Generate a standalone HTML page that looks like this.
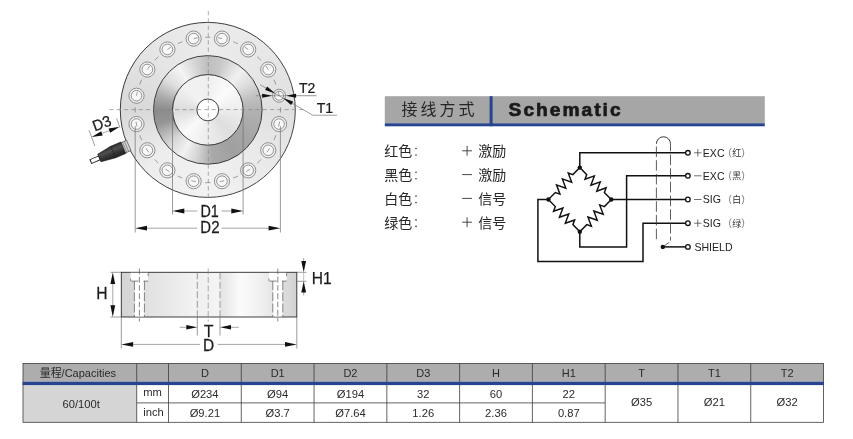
<!DOCTYPE html>
<html><head><meta charset="utf-8"><title>Load cell</title>
<style>
html,body{margin:0;padding:0;background:#fff;}
#c{position:relative;width:853px;height:439px;overflow:hidden;background:#fff;font-family:"Liberation Sans","Noto Sans CJK SC",sans-serif;}
svg{position:absolute;left:0;top:0;will-change:transform;}
svg text{font-family:"Liberation Sans","Noto Sans CJK SC",sans-serif;}
</style></head><body><div id="c">
<div style="position:absolute;left:120.30px;top:22.40px;width:175.00px;height:175.00px;border-radius:50%;background:conic-gradient(from 0deg,#ececec 0deg,#e8e8e8 40deg,#e0e0e0 90deg,#eaeaea 135deg,#f2f2f2 180deg,#ededed 225deg,#d9d9d9 270deg,#e5e5e5 315deg,#ececec 360deg)"></div>
<div style="position:absolute;left:153.50px;top:55.60px;width:108.60px;height:108.60px;border-radius:50%;background:conic-gradient(from 0deg,#bebebe 0deg,#c8c8c8 15deg,#f0f0f0 40deg,#e0e0e0 55deg,#c0c0c0 75deg,#b2b2b2 90deg,#a6a6a6 120deg,#a0a0a0 150deg,#aaaaaa 175deg,#d8d8d8 195deg,#f2f2f2 210deg,#d4d4d4 230deg,#949494 255deg,#8c8c8c 270deg,#a8a8a8 285deg,#dcdcdc 305deg,#f4f4f4 325deg,#d4d4d4 345deg,#bebebe 360deg)"></div>
<div style="position:absolute;left:172.50px;top:74.60px;width:70.60px;height:70.60px;border-radius:50%;background:conic-gradient(from 0deg,#efefef 0deg,#fbfbfb 45deg,#ededed 90deg,#dedede 135deg,#ececec 180deg,#fafafa 225deg,#dcdcdc 270deg,#f2f2f2 315deg,#efefef 360deg)"></div>
<svg width="853" height="439" viewBox="0 0 853 439">
<defs>
<linearGradient id="sideg" x1="0" x2="1" y1="0" y2="0">
<stop offset="0" stop-color="#d4d4d4"/><stop offset="0.07" stop-color="#d8d8d8"/><stop offset="0.16" stop-color="#e2e2e2"/>
<stop offset="0.43" stop-color="#f3f3f3"/><stop offset="0.433" stop-color="#f0f0f0"/><stop offset="0.563" stop-color="#f4f4f4"/><stop offset="0.566" stop-color="#e4e4e4"/>
<stop offset="0.68" stop-color="#fbfbfb"/><stop offset="0.78" stop-color="#f2f2f2"/><stop offset="0.9" stop-color="#e0e0e0"/><stop offset="1" stop-color="#d2d2d2"/>
</linearGradient>
<linearGradient id="cong" x1="0" x2="0" y1="0" y2="1">
<stop offset="0" stop-color="#222"/><stop offset="0.4" stop-color="#383838"/><stop offset="0.68" stop-color="#505050"/><stop offset="1" stop-color="#2c2c2c"/>
</linearGradient>
</defs>
<circle cx="207.8" cy="109.9" r="87.5" fill="none" stroke="#2a2a2a" stroke-width="0.9"/>
<circle cx="207.8" cy="109.9" r="54.3" fill="none" stroke="#2a2a2a" stroke-width="0.9"/>
<circle cx="207.8" cy="109.9" r="35.3" fill="none" stroke="#2a2a2a" stroke-width="0.9"/>
<circle cx="207.8" cy="109.9" r="10.9" fill="#fff" stroke="#2a2a2a" stroke-width="0.9"/>
<circle cx="279.10" cy="95.72" r="6.5" fill="#f0f0f0" stroke="#444" stroke-width="0.55"/>
<circle cx="279.10" cy="95.72" r="4.5" fill="#f8f8f8" stroke="#444" stroke-width="0.55"/>
<line x1="279.10" y1="95.72" x2="278.28" y2="91.60" stroke="#555" stroke-width="0.55"/>
<path d="M280.45 112.50 A72.7 72.7 0 0 0 280.45 107.30" fill="none" stroke="#666" stroke-width="0.6"/>
<circle cx="268.25" cy="69.51" r="7.6" fill="#f0f0f0" stroke="#444" stroke-width="0.55"/>
<circle cx="268.25" cy="69.51" r="5.3" fill="#f8f8f8" stroke="#444" stroke-width="0.55"/>
<line x1="268.25" y1="69.51" x2="265.91" y2="66.02" stroke="#555" stroke-width="0.55"/>
<path d="M275.92 84.50 A72.7 72.7 0 0 0 273.93 79.70" fill="none" stroke="#666" stroke-width="0.6"/>
<circle cx="248.19" cy="49.45" r="7.6" fill="#f0f0f0" stroke="#444" stroke-width="0.55"/>
<circle cx="248.19" cy="49.45" r="5.3" fill="#f8f8f8" stroke="#444" stroke-width="0.55"/>
<line x1="248.19" y1="49.45" x2="244.70" y2="47.12" stroke="#555" stroke-width="0.55"/>
<path d="M261.01 60.36 A72.7 72.7 0 0 0 257.34 56.69" fill="none" stroke="#666" stroke-width="0.6"/>
<circle cx="221.98" cy="38.60" r="7.6" fill="#f0f0f0" stroke="#444" stroke-width="0.55"/>
<circle cx="221.98" cy="38.60" r="5.3" fill="#f8f8f8" stroke="#444" stroke-width="0.55"/>
<line x1="221.98" y1="38.60" x2="217.86" y2="37.78" stroke="#555" stroke-width="0.55"/>
<path d="M238.00 43.77 A72.7 72.7 0 0 0 233.20 41.78" fill="none" stroke="#666" stroke-width="0.6"/>
<circle cx="193.62" cy="38.60" r="7.6" fill="#f0f0f0" stroke="#444" stroke-width="0.55"/>
<circle cx="193.62" cy="38.60" r="5.3" fill="#f8f8f8" stroke="#444" stroke-width="0.55"/>
<line x1="197.74" y1="37.78" x2="193.62" y2="38.60" stroke="#555" stroke-width="0.55"/>
<path d="M210.40 37.25 A72.7 72.7 0 0 0 205.20 37.25" fill="none" stroke="#666" stroke-width="0.6"/>
<circle cx="167.41" cy="49.45" r="7.6" fill="#f0f0f0" stroke="#444" stroke-width="0.55"/>
<circle cx="167.41" cy="49.45" r="5.3" fill="#f8f8f8" stroke="#444" stroke-width="0.55"/>
<line x1="170.90" y1="47.12" x2="167.41" y2="49.45" stroke="#555" stroke-width="0.55"/>
<path d="M182.40 41.78 A72.7 72.7 0 0 0 177.60 43.77" fill="none" stroke="#666" stroke-width="0.6"/>
<circle cx="147.35" cy="69.51" r="7.6" fill="#f0f0f0" stroke="#444" stroke-width="0.55"/>
<circle cx="147.35" cy="69.51" r="5.3" fill="#f8f8f8" stroke="#444" stroke-width="0.55"/>
<line x1="149.69" y1="66.02" x2="147.35" y2="69.51" stroke="#555" stroke-width="0.55"/>
<path d="M158.26 56.69 A72.7 72.7 0 0 0 154.59 60.36" fill="none" stroke="#666" stroke-width="0.6"/>
<circle cx="136.50" cy="95.72" r="7.6" fill="#f0f0f0" stroke="#444" stroke-width="0.55"/>
<circle cx="136.50" cy="95.72" r="5.3" fill="#f8f8f8" stroke="#444" stroke-width="0.55"/>
<line x1="137.32" y1="91.60" x2="136.50" y2="95.72" stroke="#555" stroke-width="0.55"/>
<path d="M141.67 79.70 A72.7 72.7 0 0 0 139.68 84.50" fill="none" stroke="#666" stroke-width="0.6"/>
<circle cx="136.50" cy="124.08" r="7.6" fill="#f0f0f0" stroke="#444" stroke-width="0.55"/>
<circle cx="136.50" cy="124.08" r="5.3" fill="#f8f8f8" stroke="#444" stroke-width="0.55"/>
<line x1="136.03" y1="121.73" x2="136.97" y2="126.44" stroke="#555" stroke-width="0.55"/>
<path d="M135.15 107.30 A72.7 72.7 0 0 0 135.15 112.50" fill="none" stroke="#666" stroke-width="0.6"/>
<circle cx="147.35" cy="150.29" r="7.6" fill="#f0f0f0" stroke="#444" stroke-width="0.55"/>
<circle cx="147.35" cy="150.29" r="5.3" fill="#f8f8f8" stroke="#444" stroke-width="0.55"/>
<line x1="146.02" y1="148.29" x2="148.69" y2="152.29" stroke="#555" stroke-width="0.55"/>
<path d="M139.68 135.30 A72.7 72.7 0 0 0 141.67 140.10" fill="none" stroke="#666" stroke-width="0.6"/>
<circle cx="167.41" cy="170.35" r="7.6" fill="#f0f0f0" stroke="#444" stroke-width="0.55"/>
<circle cx="167.41" cy="170.35" r="5.3" fill="#f8f8f8" stroke="#444" stroke-width="0.55"/>
<line x1="165.41" y1="169.01" x2="169.41" y2="171.68" stroke="#555" stroke-width="0.55"/>
<path d="M154.59 159.44 A72.7 72.7 0 0 0 158.26 163.11" fill="none" stroke="#666" stroke-width="0.6"/>
<circle cx="193.62" cy="181.20" r="7.6" fill="#f0f0f0" stroke="#444" stroke-width="0.55"/>
<circle cx="193.62" cy="181.20" r="5.3" fill="#f8f8f8" stroke="#444" stroke-width="0.55"/>
<line x1="191.26" y1="180.73" x2="195.97" y2="181.67" stroke="#555" stroke-width="0.55"/>
<path d="M177.60 176.03 A72.7 72.7 0 0 0 182.40 178.02" fill="none" stroke="#666" stroke-width="0.6"/>
<circle cx="221.98" cy="181.20" r="7.6" fill="#f0f0f0" stroke="#444" stroke-width="0.55"/>
<circle cx="221.98" cy="181.20" r="5.3" fill="#f8f8f8" stroke="#444" stroke-width="0.55"/>
<line x1="219.63" y1="181.67" x2="224.34" y2="180.73" stroke="#555" stroke-width="0.55"/>
<path d="M205.20 182.55 A72.7 72.7 0 0 0 210.40 182.55" fill="none" stroke="#666" stroke-width="0.6"/>
<circle cx="248.19" cy="170.35" r="7.6" fill="#f0f0f0" stroke="#444" stroke-width="0.55"/>
<circle cx="248.19" cy="170.35" r="5.3" fill="#f8f8f8" stroke="#444" stroke-width="0.55"/>
<line x1="246.19" y1="171.68" x2="250.19" y2="169.01" stroke="#555" stroke-width="0.55"/>
<path d="M233.20 178.02 A72.7 72.7 0 0 0 238.00 176.03" fill="none" stroke="#666" stroke-width="0.6"/>
<circle cx="268.25" cy="150.29" r="7.6" fill="#f0f0f0" stroke="#444" stroke-width="0.55"/>
<circle cx="268.25" cy="150.29" r="5.3" fill="#f8f8f8" stroke="#444" stroke-width="0.55"/>
<line x1="266.91" y1="152.29" x2="269.58" y2="148.29" stroke="#555" stroke-width="0.55"/>
<path d="M257.34 163.11 A72.7 72.7 0 0 0 261.01 159.44" fill="none" stroke="#666" stroke-width="0.6"/>
<circle cx="279.10" cy="124.08" r="7.6" fill="#f0f0f0" stroke="#444" stroke-width="0.55"/>
<circle cx="279.10" cy="124.08" r="5.3" fill="#f8f8f8" stroke="#444" stroke-width="0.55"/>
<line x1="278.63" y1="126.44" x2="279.57" y2="121.73" stroke="#555" stroke-width="0.55"/>
<path d="M273.93 140.10 A72.7 72.7 0 0 0 275.92 135.30" fill="none" stroke="#666" stroke-width="0.6"/>
<line x1="109.3" y1="109.6" x2="305" y2="109.6" stroke="#888" stroke-width="0.7" stroke-dasharray="4.3 3"/>
<line x1="208.3" y1="11" x2="208.3" y2="198.5" stroke="#888" stroke-width="0.7" stroke-dasharray="4.3 3"/>
<line x1="172.50" y1="109.90" x2="172.50" y2="214.50" stroke="#707070" stroke-width="0.7"/>
<line x1="243.10" y1="109.90" x2="243.10" y2="214.50" stroke="#707070" stroke-width="0.7"/>
<line x1="183.50" y1="211.00" x2="197.30" y2="211.00" stroke="#808080" stroke-width="0.7"/>
<line x1="221.50" y1="211.00" x2="232.10" y2="211.00" stroke="#808080" stroke-width="0.7"/>
<polygon points="172.50,211.00 184.30,208.60 184.30,213.40" fill="#111"/>
<polygon points="243.10,211.00 231.30,213.40 231.30,208.60" fill="#111"/>
<text transform="translate(209.6 216.8) scale(0.92 1)" font-size="15.6" text-anchor="middle" fill="#1c1c1c" stroke="#1c1c1c" stroke-width="0.25">D1</text>
<line x1="135.20" y1="126.00" x2="135.20" y2="232.50" stroke="#707070" stroke-width="0.7"/>
<line x1="280.40" y1="126.00" x2="280.40" y2="232.50" stroke="#707070" stroke-width="0.7"/>
<line x1="146.20" y1="228.20" x2="197.30" y2="228.20" stroke="#808080" stroke-width="0.7"/>
<line x1="221.50" y1="228.20" x2="269.40" y2="228.20" stroke="#808080" stroke-width="0.7"/>
<polygon points="135.20,228.20 147.00,225.80 147.00,230.60" fill="#111"/>
<polygon points="280.40,228.20 268.60,230.60 268.60,225.80" fill="#111"/>
<text transform="translate(209.9 233.4) scale(0.96 1)" font-size="15.6" text-anchor="middle" fill="#1c1c1c" stroke="#1c1c1c" stroke-width="0.25">D2</text>
<line x1="255.70" y1="95.72" x2="263.60" y2="95.72" stroke="#808080" stroke-width="0.7"/>
<line x1="294.60" y1="95.72" x2="316.60" y2="95.72" stroke="#666" stroke-width="0.7"/>
<line x1="272.60" y1="95.72" x2="285.60" y2="95.72" stroke="#666" stroke-width="0.5"/>
<polygon points="272.60,95.72 262.10,97.72 262.10,93.72" fill="#111"/>
<polygon points="285.60,95.72 296.10,93.72 296.10,97.72" fill="#111"/>
<text transform="translate(298.9 93.1) scale(0.98 1)" font-size="14.3" text-anchor="start" fill="#1c1c1c" stroke="#1c1c1c" stroke-width="0.25">T2</text>
<polyline points="260.05,84.72 312.88,115.22 337,115.22" fill="none" stroke="#777" stroke-width="0.7"/>
<polygon points="275.21,93.47 265.11,89.95 267.11,86.48" fill="#111"/>
<polygon points="283.00,97.97 293.09,101.48 291.09,104.95" fill="#111"/>
<text transform="translate(316.8 112.8) scale(0.98 1)" font-size="14.3" text-anchor="start" fill="#1c1c1c" stroke="#1c1c1c" stroke-width="0.25">T1</text>
<g transform="translate(126.5 146.4) rotate(157)">
<rect x="-2.5" y="-5.6" width="7" height="11.2" fill="#d4d4d4" stroke="#444" stroke-width="0.6"/>
<line x1="0" y1="-5.6" x2="0" y2="5.6" stroke="#555" stroke-width="0.5"/>
<line x1="2" y1="-5.6" x2="2" y2="5.6" stroke="#555" stroke-width="0.5"/>
<polygon points="3.5,-6.2 14.5,-6.2 29.5,-4.1 29.5,4.1 14.5,6.2 3.5,6.2" fill="url(#cong)" stroke="#1a1a1a" stroke-width="0.6"/>
<line x1="14.5" y1="-6.2" x2="14.5" y2="6.2" stroke="#1a1a1a" stroke-width="0.5"/>
<rect x="29.5" y="-2.1" width="9.3" height="4.2" fill="#fff" stroke="#111" stroke-width="0.9"/>
</g>
<g transform="translate(91.6 137.1) rotate(-20)">
<line x1="0.00" y1="-7.30" x2="0.00" y2="9.50" stroke="#707070" stroke-width="0.6"/>
<line x1="29.90" y1="-9.10" x2="29.90" y2="0.70" stroke="#707070" stroke-width="0.6"/>
<line x1="10.00" y1="0.00" x2="20.00" y2="0.00" stroke="#808080" stroke-width="0.6"/>
<polygon points="0.00,0.00 11.00,-2.20 11.00,2.20" fill="#111"/>
<polygon points="29.90,0.00 18.90,2.20 18.90,-2.20" fill="#111"/>
<text transform="translate(14.3 -4.3) scale(0.96 1)" font-size="15.3" text-anchor="middle" fill="#1c1c1c" stroke="#1c1c1c" stroke-width="0.25">D3</text>
</g>
<rect x="121.3" y="272.3" width="175.5" height="44.69999999999999" fill="url(#sideg)" stroke="#2a2a2a" stroke-width="0.9"/>
<line x1="208.2" y1="268.5" x2="208.2" y2="321.5" stroke="#888" stroke-width="0.7" stroke-dasharray="6 2.5"/>
<line x1="197.3" y1="272.3" x2="197.3" y2="317.0" stroke="#777" stroke-width="0.7" stroke-dasharray="7 2.5"/>
<line x1="220.0" y1="272.3" x2="220.0" y2="317.0" stroke="#777" stroke-width="0.7" stroke-dasharray="7 2.5"/>
<rect x="130.6" y="272.8" width="17.6" height="8.3" fill="#fff" stroke="none"/>
<rect x="134.4" y="280.6" width="10.0" height="35.89999999999999" fill="#fff" stroke="none"/>
<line x1="130.60" y1="278.60" x2="130.60" y2="281.10" stroke="#555" stroke-width="0.7"/>
<line x1="148.20" y1="273.10" x2="148.20" y2="276.10" stroke="#555" stroke-width="0.7"/>
<line x1="131.20000000000002" y1="281.1" x2="148.20000000000002" y2="281.1" stroke="#555" stroke-width="0.7" stroke-dasharray="7.3 5"/>
<line x1="134.4" y1="281.1" x2="134.4" y2="317.0" stroke="#555" stroke-width="0.7" stroke-dasharray="9 2.2"/>
<line x1="144.4" y1="281.1" x2="144.4" y2="317.0" stroke="#555" stroke-width="0.7" stroke-dasharray="9 2.2"/>
<line x1="139.4" y1="268.7" x2="139.4" y2="321.5" stroke="#555" stroke-width="0.7" stroke-dasharray="5.5 2.5 6 2.5"/>
<rect x="269.0" y="272.8" width="17.6" height="8.3" fill="#fff" stroke="none"/>
<rect x="272.8" y="280.6" width="10.0" height="35.89999999999999" fill="#fff" stroke="none"/>
<line x1="269.00" y1="278.60" x2="269.00" y2="281.10" stroke="#555" stroke-width="0.7"/>
<line x1="286.60" y1="273.10" x2="286.60" y2="276.10" stroke="#555" stroke-width="0.7"/>
<line x1="269.6" y1="281.1" x2="286.6" y2="281.1" stroke="#555" stroke-width="0.7" stroke-dasharray="7.3 5"/>
<line x1="272.8" y1="281.1" x2="272.8" y2="317.0" stroke="#555" stroke-width="0.7" stroke-dasharray="9 2.2"/>
<line x1="282.8" y1="281.1" x2="282.8" y2="317.0" stroke="#555" stroke-width="0.7" stroke-dasharray="9 2.2"/>
<line x1="277.8" y1="268.7" x2="277.8" y2="321.5" stroke="#555" stroke-width="0.7" stroke-dasharray="5.5 2.5 6 2.5"/>
<line x1="110.50" y1="272.30" x2="121.30" y2="272.30" stroke="#707070" stroke-width="0.7"/>
<line x1="110.50" y1="317.00" x2="121.30" y2="317.00" stroke="#707070" stroke-width="0.7"/>
<line x1="112.80" y1="283.30" x2="112.80" y2="306.00" stroke="#808080" stroke-width="0.7"/>
<polygon points="112.80,272.30 115.20,284.10 110.40,284.10" fill="#111"/>
<polygon points="112.80,317.00 110.40,305.20 115.20,305.20" fill="#111"/>
<text transform="translate(101.9 299.3) scale(0.95 1)" font-size="16.5" text-anchor="middle" fill="#1c1c1c" stroke="#1c1c1c" stroke-width="0.25">H</text>
<line x1="296.80" y1="272.30" x2="306.50" y2="272.30" stroke="#707070" stroke-width="0.7"/>
<line x1="296.80" y1="281.30" x2="306.50" y2="281.30" stroke="#707070" stroke-width="0.7"/>
<line x1="303.70" y1="258.00" x2="303.70" y2="262.30" stroke="#808080" stroke-width="0.7"/>
<line x1="303.70" y1="291.00" x2="303.70" y2="295.50" stroke="#808080" stroke-width="0.7"/>
<polygon points="303.70,272.30 301.30,261.10 306.10,261.10" fill="#111"/>
<polygon points="303.70,281.30 306.10,292.50 301.30,292.50" fill="#111"/>
<line x1="303.70" y1="272.30" x2="303.70" y2="281.30" stroke="#808080" stroke-width="0.5"/>
<text transform="translate(311.7 284.1) scale(1.0 1)" font-size="15.6" text-anchor="start" fill="#1c1c1c" stroke="#1c1c1c" stroke-width="0.25">H1</text>
<line x1="197.30" y1="317.00" x2="197.30" y2="335.50" stroke="#707070" stroke-width="0.7"/>
<line x1="220.00" y1="317.00" x2="220.00" y2="335.50" stroke="#707070" stroke-width="0.7"/>
<line x1="179.70" y1="327.30" x2="186.50" y2="327.30" stroke="#808080" stroke-width="0.7"/>
<line x1="230.80" y1="327.30" x2="238.80" y2="327.30" stroke="#808080" stroke-width="0.7"/>
<polygon points="197.30,327.30 186.30,329.50 186.30,325.10" fill="#111"/>
<polygon points="220.00,327.30 231.00,325.10 231.00,329.50" fill="#111"/>
<text transform="translate(208.8 336.9) scale(0.95 1)" font-size="16.3" text-anchor="middle" fill="#1c1c1c" stroke="#1c1c1c" stroke-width="0.25">T</text>
<line x1="121.30" y1="317.00" x2="121.30" y2="348.50" stroke="#707070" stroke-width="0.7"/>
<line x1="296.80" y1="317.00" x2="296.80" y2="348.50" stroke="#707070" stroke-width="0.7"/>
<line x1="132.30" y1="344.40" x2="200.00" y2="344.40" stroke="#808080" stroke-width="0.7"/>
<line x1="217.50" y1="344.40" x2="285.80" y2="344.40" stroke="#808080" stroke-width="0.7"/>
<polygon points="121.30,344.40 133.10,342.00 133.10,346.80" fill="#111"/>
<polygon points="296.80,344.40 285.00,346.80 285.00,342.00" fill="#111"/>
<text transform="translate(208.7 351.1) scale(0.95 1)" font-size="16.3" text-anchor="middle" fill="#1c1c1c" stroke="#1c1c1c" stroke-width="0.25">D</text>
<rect x="384.8" y="96.2" width="380" height="27.3" fill="#a7a6a6"/>
<rect x="384.8" y="123.3" width="380" height="3" fill="#27458f"/>
<rect x="489.6" y="96.2" width="3" height="30" fill="#27458f"/>
<text x="401.4" y="115.2" font-size="16" text-anchor="start" fill="#262626" letter-spacing="3">接线方式</text>
<text x="508.6" y="116.3" font-size="19.2" text-anchor="start" font-weight="bold" fill="#1a1a1a" letter-spacing="2.0" stroke="#1a1a1a" stroke-width="0.7" stroke-linejoin="round">Schematic</text>
<text x="384.3" y="156.1" font-size="14" text-anchor="start" fill="#262626">红色</text>
<circle cx="416" cy="148.5" r="0.8" fill="#333"/><circle cx="416" cy="155.0" r="0.8" fill="#333"/>
<line x1="462.20000000000005" y1="150.8" x2="472.0" y2="150.8" stroke="#333" stroke-width="0.9"/>
<line x1="467.1" y1="145.9" x2="467.1" y2="155.70000000000002" stroke="#333" stroke-width="0.9"/>
<text x="478.2" y="156.1" font-size="14" text-anchor="start" fill="#262626">激励</text>
<text x="384.3" y="179.9" font-size="14" text-anchor="start" fill="#262626">黑色</text>
<circle cx="416" cy="172.29999999999998" r="0.8" fill="#333"/><circle cx="416" cy="178.79999999999998" r="0.8" fill="#333"/>
<line x1="462.20000000000005" y1="174.6" x2="472.0" y2="174.6" stroke="#333" stroke-width="0.9"/>
<text x="478.2" y="179.9" font-size="14" text-anchor="start" fill="#262626">激励</text>
<text x="384.3" y="203.7" font-size="14" text-anchor="start" fill="#262626">白色</text>
<circle cx="416" cy="196.1" r="0.8" fill="#333"/><circle cx="416" cy="202.6" r="0.8" fill="#333"/>
<line x1="462.20000000000005" y1="198.4" x2="472.0" y2="198.4" stroke="#333" stroke-width="0.9"/>
<text x="478.2" y="203.7" font-size="14" text-anchor="start" fill="#262626">信号</text>
<text x="384.3" y="227.5" font-size="14" text-anchor="start" fill="#262626">绿色</text>
<circle cx="416" cy="219.89999999999998" r="0.8" fill="#333"/><circle cx="416" cy="226.39999999999998" r="0.8" fill="#333"/>
<line x1="462.20000000000005" y1="222.2" x2="472.0" y2="222.2" stroke="#333" stroke-width="0.9"/>
<line x1="467.1" y1="217.29999999999998" x2="467.1" y2="227.1" stroke="#333" stroke-width="0.9"/>
<text x="478.2" y="227.5" font-size="14" text-anchor="start" fill="#262626">信号</text>
<polyline points="579.8,167.6 579.8,152.8 685.4,152.8" fill="none" stroke="#111" stroke-width="1.5" stroke-linejoin="miter"/>
<polyline points="685.4,175.8 626.6,175.8 626.6,246.9 579.8,246.9 579.8,231.7" fill="none" stroke="#111" stroke-width="1.5" stroke-linejoin="miter"/>
<polyline points="611.3,199.5 685.4,199.5" fill="none" stroke="#111" stroke-width="1.5" stroke-linejoin="miter"/>
<polyline points="685.4,223.2 643,223.2 643,261.5 537.9,261.5 537.9,199.5 548.4,199.5" fill="none" stroke="#111" stroke-width="1.5" stroke-linejoin="miter"/>
<polyline points="662.8,246.9 685.4,246.9" fill="none" stroke="#111" stroke-width="1.5" stroke-linejoin="miter"/>
<polyline points="579.8,167.6 572.89,174.62 568.22,172.95 571.7,182.24 562.36,178.9 565.84,188.2 556.5,184.86 559.98,194.15 555.31,192.48 548.4,199.5" fill="none" stroke="#111" stroke-width="1.45" stroke-linejoin="miter"/>
<polyline points="579.8,167.6 586.73,174.62 585.0,179.27 594.34,175.92 590.88,185.22 600.22,181.88 596.76,191.18 606.1,187.83 604.37,192.48 611.3,199.5" fill="none" stroke="#111" stroke-width="1.45" stroke-linejoin="miter"/>
<polyline points="548.4,199.5 555.31,206.58 553.55,211.23 562.93,207.95 559.41,217.24 568.79,213.96 565.27,223.25 574.65,219.97 572.89,224.62 579.8,231.7" fill="none" stroke="#111" stroke-width="1.45" stroke-linejoin="miter"/>
<polyline points="611.3,199.5 604.37,206.58 599.68,204.94 603.18,214.24 593.8,210.95 597.3,220.25 587.92,216.96 591.42,226.26 586.73,224.62 579.8,231.7" fill="none" stroke="#111" stroke-width="1.45" stroke-linejoin="miter"/>
<circle cx="579.8" cy="167.6" r="2.2" fill="#111"/>
<circle cx="548.4" cy="199.5" r="2.2" fill="#111"/>
<circle cx="611.3" cy="199.5" r="2.2" fill="#111"/>
<circle cx="579.8" cy="231.7" r="2.2" fill="#111"/>
<circle cx="662.8" cy="246.9" r="2.2" fill="#111"/>
<circle cx="687.9" cy="152.8" r="2.3" fill="#fff" stroke="#111" stroke-width="1.3"/>
<line x1="694.0999999999999" y1="152.8" x2="701.5" y2="152.8" stroke="#333" stroke-width="0.7"/>
<line x1="697.8" y1="149.10000000000002" x2="697.8" y2="156.5" stroke="#333" stroke-width="0.7"/>
<text x="702.8" y="156.60000000000002" font-size="10.6" text-anchor="start" font-weight="normal" fill="#222" >EXC</text>
<path d="M731.1 148.10000000000002 C729.0 150.8 729.0 154.8 731.1 157.5" fill="none" stroke="#333" stroke-width="0.6"/>
<text x="732.2" y="156.2" font-size="9" text-anchor="start" fill="#333">红</text>
<path d="M742.1 148.10000000000002 C744.2 150.8 744.2 154.8 742.1 157.5" fill="none" stroke="#333" stroke-width="0.6"/>
<circle cx="687.9" cy="175.8" r="2.3" fill="#fff" stroke="#111" stroke-width="1.3"/>
<line x1="694.0999999999999" y1="175.8" x2="701.5" y2="175.8" stroke="#333" stroke-width="0.7"/>
<text x="702.8" y="179.60000000000002" font-size="10.6" text-anchor="start" font-weight="normal" fill="#222" >EXC</text>
<path d="M731.1 171.10000000000002 C729.0 173.8 729.0 177.8 731.1 180.5" fill="none" stroke="#333" stroke-width="0.6"/>
<text x="732.2" y="179.2" font-size="9" text-anchor="start" fill="#333">黑</text>
<path d="M742.1 171.10000000000002 C744.2 173.8 744.2 177.8 742.1 180.5" fill="none" stroke="#333" stroke-width="0.6"/>
<circle cx="687.9" cy="199.5" r="2.3" fill="#fff" stroke="#111" stroke-width="1.3"/>
<line x1="694.0999999999999" y1="199.5" x2="701.5" y2="199.5" stroke="#333" stroke-width="0.7"/>
<text x="702.8" y="203.3" font-size="10.6" text-anchor="start" font-weight="normal" fill="#222" >SIG</text>
<path d="M731.1 194.8 C729.0 197.5 729.0 201.5 731.1 204.2" fill="none" stroke="#333" stroke-width="0.6"/>
<text x="732.2" y="202.9" font-size="9" text-anchor="start" fill="#333">白</text>
<path d="M742.1 194.8 C744.2 197.5 744.2 201.5 742.1 204.2" fill="none" stroke="#333" stroke-width="0.6"/>
<circle cx="687.9" cy="223.2" r="2.3" fill="#fff" stroke="#111" stroke-width="1.3"/>
<line x1="694.0999999999999" y1="223.2" x2="701.5" y2="223.2" stroke="#333" stroke-width="0.7"/>
<line x1="697.8" y1="219.5" x2="697.8" y2="226.89999999999998" stroke="#333" stroke-width="0.7"/>
<text x="702.8" y="227.0" font-size="10.6" text-anchor="start" font-weight="normal" fill="#222" >SIG</text>
<path d="M731.1 218.5 C729.0 221.2 729.0 225.2 731.1 227.89999999999998" fill="none" stroke="#333" stroke-width="0.6"/>
<text x="732.2" y="226.6" font-size="9" text-anchor="start" fill="#333">绿</text>
<path d="M742.1 218.5 C744.2 221.2 744.2 225.2 742.1 227.89999999999998" fill="none" stroke="#333" stroke-width="0.6"/>
<circle cx="687.9" cy="246.9" r="2.3" fill="#fff" stroke="#111" stroke-width="1.3"/>
<text x="694.4" y="250.70000000000002" font-size="10.6" text-anchor="start" font-weight="normal" fill="#222" >SHIELD</text>
<path d="M656.4 143.8 A7.05 7.05 0 0 1 670.5 143.8" fill="none" stroke="#222" stroke-width="0.9"/>
<path d="M656.4 146.5 L656.4 241.5" fill="none" stroke="#333" stroke-width="0.8" stroke-dasharray="10.5 3.2"/>
<path d="M670.5 143.8 L670.5 240.5" fill="none" stroke="#333" stroke-width="0.8" stroke-dasharray="10.5 3.2" stroke-dashoffset="3"/>
<path d="M669.3 242.3 L663.2 246.6" fill="none" stroke="#222" stroke-width="0.7"/>
<rect x="23.0" y="363.4" width="800.52" height="18.30" fill="#adadad"/>
<rect x="23.0" y="385.1" width="113.70" height="37.20" fill="#d5d5d5"/>
<rect x="23.0" y="363.4" width="800.52" height="58.90" fill="none" stroke="#3c3c3c" stroke-width="0.8"/>
<line x1="136.70" y1="363.4" x2="136.70" y2="422.3" stroke="#3c3c3c" stroke-width="0.8"/>
<line x1="168.50" y1="363.4" x2="168.50" y2="422.3" stroke="#3c3c3c" stroke-width="0.8"/>
<line x1="241.28" y1="363.4" x2="241.28" y2="422.3" stroke="#3c3c3c" stroke-width="0.8"/>
<line x1="314.06" y1="363.4" x2="314.06" y2="422.3" stroke="#3c3c3c" stroke-width="0.8"/>
<line x1="386.84" y1="363.4" x2="386.84" y2="422.3" stroke="#3c3c3c" stroke-width="0.8"/>
<line x1="459.62" y1="363.4" x2="459.62" y2="422.3" stroke="#3c3c3c" stroke-width="0.8"/>
<line x1="532.40" y1="363.4" x2="532.40" y2="422.3" stroke="#3c3c3c" stroke-width="0.8"/>
<line x1="605.18" y1="363.4" x2="605.18" y2="422.3" stroke="#3c3c3c" stroke-width="0.8"/>
<line x1="677.96" y1="363.4" x2="677.96" y2="422.3" stroke="#3c3c3c" stroke-width="0.8"/>
<line x1="750.74" y1="363.4" x2="750.74" y2="422.3" stroke="#3c3c3c" stroke-width="0.8"/>
<line x1="136.7" y1="402.9" x2="605.18" y2="402.9" stroke="#3c3c3c" stroke-width="0.8"/>
<rect x="22.6" y="381.7" width="801.32" height="3.40" fill="#27458f"/>
<text x="204.89" y="377.2" font-size="11" text-anchor="middle" font-weight="normal" fill="#2a2a2a" >D</text>
<text x="277.67" y="377.2" font-size="11" text-anchor="middle" font-weight="normal" fill="#2a2a2a" >D1</text>
<text x="350.45" y="377.2" font-size="11" text-anchor="middle" font-weight="normal" fill="#2a2a2a" >D2</text>
<text x="423.23" y="377.2" font-size="11" text-anchor="middle" font-weight="normal" fill="#2a2a2a" >D3</text>
<text x="496.01" y="377.2" font-size="11" text-anchor="middle" font-weight="normal" fill="#2a2a2a" >H</text>
<text x="568.79" y="377.2" font-size="11" text-anchor="middle" font-weight="normal" fill="#2a2a2a" >H1</text>
<text x="641.57" y="377.2" font-size="11" text-anchor="middle" font-weight="normal" fill="#2a2a2a" >T</text>
<text x="714.35" y="377.2" font-size="11" text-anchor="middle" font-weight="normal" fill="#2a2a2a" >T1</text>
<text x="787.13" y="377.2" font-size="11" text-anchor="middle" font-weight="normal" fill="#2a2a2a" >T2</text>
<text x="39.8" y="376.9" font-size="11" text-anchor="start" fill="#2a2a2a">量程</text>
<text x="61.6" y="377.2" font-size="11" text-anchor="start" font-weight="normal" fill="#2a2a2a" >/Capacities</text>
<text x="81.2" y="407.5" font-size="11.2" text-anchor="middle" font-weight="normal" fill="#2a2a2a" >60/100t</text>
<text x="143.2" y="395.6" font-size="11.2" text-anchor="start" font-weight="normal" fill="#2a2a2a" >mm</text>
<text x="143.2" y="415.5" font-size="11.2" text-anchor="start" font-weight="normal" fill="#2a2a2a" >inch</text>
<text x="204.89" y="397.7" font-size="11.2" text-anchor="middle" font-weight="normal" fill="#2a2a2a" >Ø234</text>
<text x="204.89" y="417.3" font-size="11.2" text-anchor="middle" font-weight="normal" fill="#2a2a2a" >Ø9.21</text>
<text x="277.67" y="397.7" font-size="11.2" text-anchor="middle" font-weight="normal" fill="#2a2a2a" >Ø94</text>
<text x="277.67" y="417.3" font-size="11.2" text-anchor="middle" font-weight="normal" fill="#2a2a2a" >Ø3.7</text>
<text x="350.45" y="397.7" font-size="11.2" text-anchor="middle" font-weight="normal" fill="#2a2a2a" >Ø194</text>
<text x="350.45" y="417.3" font-size="11.2" text-anchor="middle" font-weight="normal" fill="#2a2a2a" >Ø7.64</text>
<text x="423.23" y="397.7" font-size="11.2" text-anchor="middle" font-weight="normal" fill="#2a2a2a" >32</text>
<text x="423.23" y="417.3" font-size="11.2" text-anchor="middle" font-weight="normal" fill="#2a2a2a" >1.26</text>
<text x="496.01" y="397.7" font-size="11.2" text-anchor="middle" font-weight="normal" fill="#2a2a2a" >60</text>
<text x="496.01" y="417.3" font-size="11.2" text-anchor="middle" font-weight="normal" fill="#2a2a2a" >2.36</text>
<text x="568.79" y="397.7" font-size="11.2" text-anchor="middle" font-weight="normal" fill="#2a2a2a" >22</text>
<text x="568.79" y="417.3" font-size="11.2" text-anchor="middle" font-weight="normal" fill="#2a2a2a" >0.87</text>
<text x="641.57" y="406.4" font-size="11.2" text-anchor="middle" font-weight="normal" fill="#2a2a2a" >Ø35</text>
<text x="714.35" y="406.4" font-size="11.2" text-anchor="middle" font-weight="normal" fill="#2a2a2a" >Ø21</text>
<text x="787.13" y="406.4" font-size="11.2" text-anchor="middle" font-weight="normal" fill="#2a2a2a" >Ø32</text>
</svg>
</div></body></html>
